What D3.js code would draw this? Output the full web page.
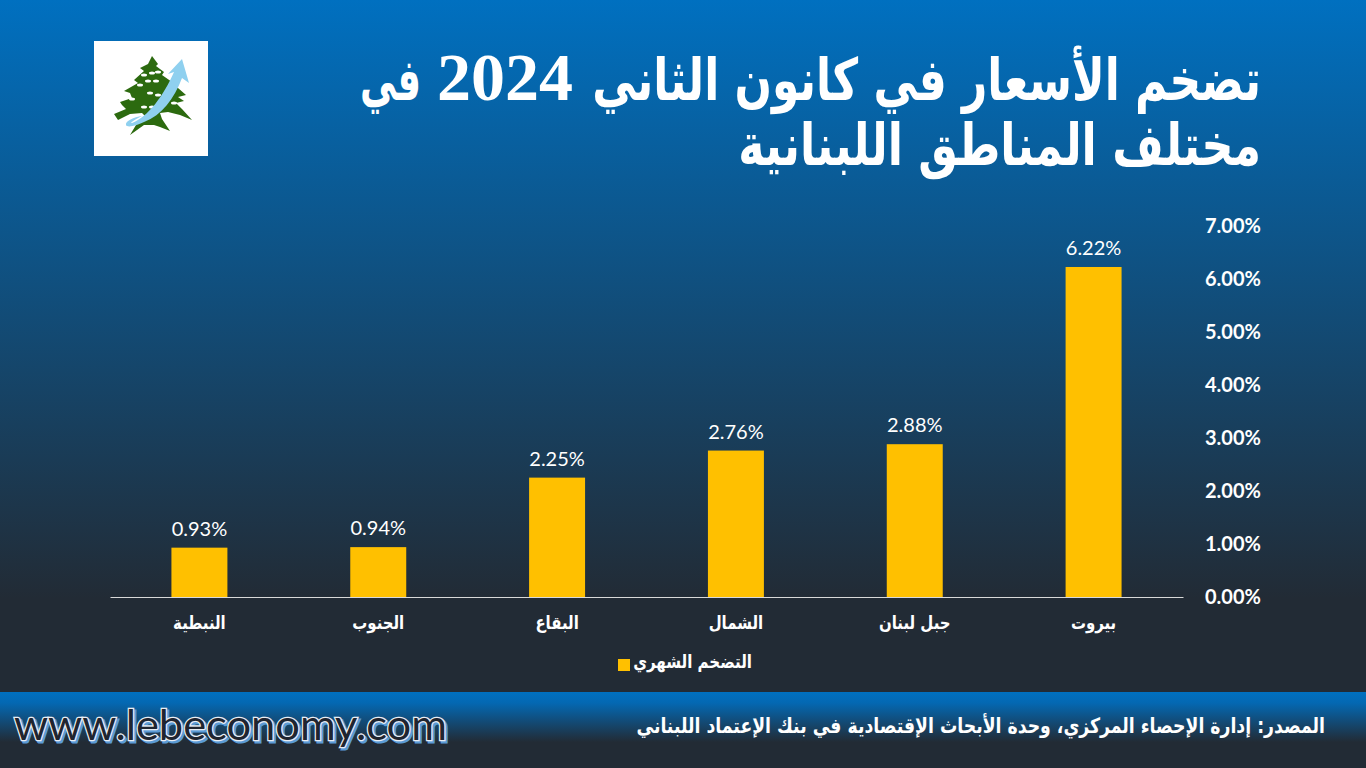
<!DOCTYPE html>
<html lang="ar">
<head>
<meta charset="utf-8">
<script src="https://cdn.jsdelivr.net/npm/d3@7"></script>
<style>
html, body { margin: 0; padding: 0; background: #222b35; overflow: hidden; }
svg { display: block; }
text { font-family: "DejaVu Sans", sans-serif; }
</style>
</head>
<body>
<div id="main"></div>
<script>
// chart values, right-most bar last
const categories = ["النبطية", "الجنوب", "البقاع", "الشمال", "جبل لبنان", "بيروت"];
const inflation = [0.93, 0.94, 2.25, 2.76, 2.88, 6.22];
const yTicks = [0, 1, 2, 3, 4, 5, 6, 7];
const titleStart = "تضخم الأسعار في كانون الثاني";
const titleYear = "2024";
const titleEnd = "في";
const titleSecond = "مختلف المناطق اللبنانية";
const legendLabel = "التضخم الشهري";
const sourceText = "المصدر: إدارة الإحصاء المركزي، وحدة الأبحاث الإقتصادية في بنك الإعتماد اللبناني";
const siteText = "www.lebeconomy.com";

const ctx = {width: 1366, height: 768, left: 110, right: 1183, top: 225.6, bottom: 597};

const svg = d3.select("#main").append("svg")
  .attr("width", ctx.width)
  .attr("height", ctx.height);

const defs = svg.append("defs");

function addGradient(id, stops) {
  const g = defs.append("linearGradient").attr("id", id)
    .attr("x1", 0).attr("x2", 0).attr("y1", 0).attr("y2", 1);
  stops.forEach(s => g.append("stop").attr("offset", s[0]).attr("stop-color", s[1]));
}
addGradient("bg", [[0, "#0070c0"], [0.78, "#222b35"], [1, "#222b35"]]);
addGradient("band", [[0, "#0070c0"], [0.22, "#0468b2"], [1, "#222b35"]]);

// background
svg.append("rect").attr("width", ctx.width).attr("height", ctx.height).attr("fill", "url(#bg)");
svg.append("rect").attr("y", 692).attr("width", ctx.width).attr("height", 50).attr("fill", "url(#band)");

// squeeze a text sideways to the measured width, the installed fonts are wider than the original
function squeeze(sel, px, py, width) {
  const sx = width / sel.node().getComputedTextLength();
  sel.attr("transform", `translate(${px},${py}) scale(${sx},1)`);
  return sel;
}

function arabic(right, base, width, size, label) {
  const t = svg.append("text")
    .attr("text-anchor", "end")
    .attr("fill", "#fff").attr("font-size", size).attr("font-weight", "bold")
    .text(label);
  return squeeze(t, right, base, width);
}

// title
arabic(1261, 100, 669, 58, titleStart);
arabic(421, 100, 61, 58, titleEnd);
arabic(1261, 165, 523, 58, titleSecond);
svg.append("text").attr("x", 505).attr("y", 100)
  .attr("text-anchor", "middle").attr("fill", "#fff")
  .attr("font-size", 68).attr("font-weight", "bold")
  .style("font-family", '"Liberation Serif", serif')
  .text(titleYear);

// logo
const logo = svg.append("g").attr("transform", "translate(94,41)");
logo.append("rect").attr("width", 114).attr("height", 115).attr("fill", "#fff");
logo.append("path")
  .attr("d", "M58 15 L64 23 L62 25 L70 31 L68 34 L78 41 L74 44 L84 47 L92 54 L84 56 L90 60 L82 62 L88 68 L98 79 L86 74 L74 71 L66 72 L68 78 L76 90 L66 86 L60 84 L50 84 L36 94 L42 84 L52 76 L48 72 L36 73 L24 79 L20 73 L32 68 L28 64 L26 61 L38 57 L36 52 L30 50 L44 42 L40 39 L50 30 L46 27 L54 23 Z")
  .attr("fill", "#2c6a0f");
[[50, 34], [58, 32], [64, 31], [46, 44], [54, 40], [62, 40], [38, 58], [56, 52], [64, 54], [50, 66], [58, 66], [80, 62], [70, 62]].forEach(p => {
  logo.append("ellipse").attr("cx", p[0]).attr("cy", p[1]).attr("rx", 3).attr("ry", 1.5).attr("fill", "#fff");
});
logo.append("path")
  .attr("d", "M88 18 L95 42 L88 37 C80 58 68 74 50 81 C42 85 33 87 32 84 C31 80 40 76 48 75 C38 80 36 82 38 82 C54 76 70 54 80 31 L74 33 Z")
  .attr("fill", "#8fd0ef");

// scales
const x = d3.scaleBand().domain(categories).range([ctx.left, ctx.right]).paddingInner(0.687).paddingOuter(0.3435);
const y = d3.scaleLinear().domain([0, 7]).range([ctx.bottom, ctx.top]);

// bars
svg.append("g").selectAll("rect").data(inflation).join("rect")
  .attr("x", (d, i) => x(categories[i]))
  .attr("y", d => y(d))
  .attr("width", x.bandwidth())
  .attr("height", d => y(0) - y(d))
  .attr("fill", "#ffc000");

// data labels
svg.append("g").selectAll("text").data(inflation).join("text")
  .attr("x", (d, i) => x(categories[i]) + x.bandwidth() / 2)
  .attr("y", d => y(d) - 12)
  .attr("text-anchor", "middle")
  .attr("fill", "#fff")
  .attr("font-size", 20)
  .style("font-family", 'Lato, sans-serif')
  .text(d => d.toFixed(2) + "%");

// axes
const xAxis = svg.append("g").attr("transform", `translate(0,${ctx.bottom})`)
  .call(d3.axisBottom(x).tickSize(0).tickPadding(19));
xAxis.select(".domain").attr("stroke", "#d9d9d9").attr("stroke-width", 1.2);
xAxis.selectAll("text").attr("fill", "#fff").attr("font-size", 18).attr("font-weight", "bold")
  .style("font-family", '"DejaVu Sans", sans-serif')
  .attr("transform", "scale(0.83,1)")
  .attr("x", d => 0);

const yAxis = svg.append("g").attr("transform", "translate(1205,0)")
  .call(d3.axisRight(y).tickValues(yTicks).tickSize(0).tickPadding(0).tickFormat(d => d.toFixed(2) + "%"));
yAxis.select(".domain").remove();
yAxis.selectAll("text").attr("fill", "#fff").attr("font-size", 20).attr("font-weight", "bold")
  .style("font-family", 'Lato, sans-serif');

// legend
svg.append("rect").attr("x", 618).attr("y", 659).attr("width", 12).attr("height", 12).attr("fill", "#ffc000");
arabic(752, 668, 119, 18, legendLabel);

// footer
arabic(1325, 733, 689, 21, sourceText);

const siteShadow = svg.append("text")
  .attr("fill", "#5b9bd5").attr("font-size", 42)
  .style("font-family", 'Lato, sans-serif')
  .attr("stroke", "#5b9bd5").attr("stroke-width", 3)
  .text(siteText);
squeeze(siteShadow, 16, 742, 433);
const siteFront = svg.append("text")
  .attr("fill", "#1f2530").attr("font-size", 42)
  .style("font-family", 'Lato, sans-serif')
  .attr("stroke", "#e8eef5").attr("stroke-width", 2.5)
  .attr("paint-order", "stroke")
  .text(siteText);
squeeze(siteFront, 14, 740, 433);
</script>
</body>
</html>
